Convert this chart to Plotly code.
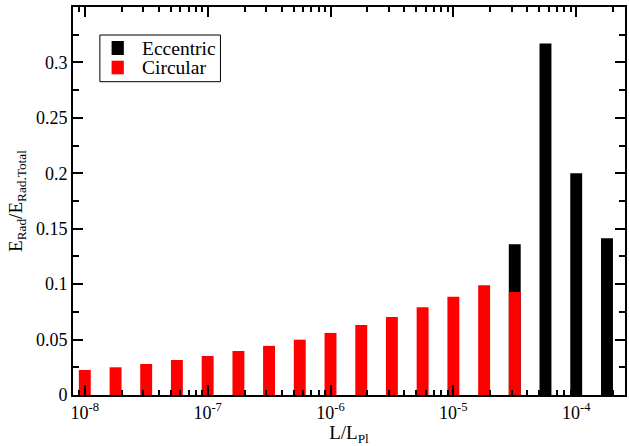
import numpy as np
import plotly.graph_objects as go

# Data
L_circular = [1.00e-8, 1.78e-8, 3.16e-8, 5.62e-8, 1.00e-7, 1.78e-7, 3.16e-7, 5.62e-7,
              1.00e-6, 1.78e-6, 3.16e-6, 5.62e-6, 1.00e-5, 1.78e-5, 3.16e-5]
E_circular = [0.0226, 0.0250, 0.0280, 0.0316, 0.0352, 0.0397, 0.0443, 0.0499,
              0.0560, 0.0632, 0.0704, 0.0791, 0.0887, 0.0990, 0.0928]
L_eccentric = [3.16e-5, 5.62e-5, 1.00e-4, 1.78e-4]
E_eccentric = [0.136, 0.317, 0.200, 0.1414]

series_names = ["Eccentric", "Circular"]
series_colors = ["black", "#ff0000"]

tick_exps = [-8, -7, -6, -5, -4]
tick_labels = ["10<sup>-8</sup>", "10<sup>-7</sup>", "10<sup>-6</sup>", "10<sup>-5</sup>", "10<sup>-4</sup>"]
y_tick_vals = [0, 0.05, 0.1, 0.15, 0.2, 0.25, 0.3]
y_tick_labels = ["0", "0.05", "0.1", "0.15", "0.2", "0.25", "0.3"]
y_minor_vals = [0.025, 0.075, 0.125, 0.175, 0.225, 0.275, 0.325]

font = "Liberation Serif"
bw = 0.097

minor_vals = [float(np.log10(m) + d) for d in range(-9, -3) for m in range(2, 10)]

fig = go.Figure()
fig.add_trace(go.Bar(x=np.log10(L_eccentric), y=E_eccentric, width=bw, name=series_names[0],
                     marker=dict(color=series_colors[0], line=dict(width=0)), showlegend=False))
fig.add_trace(go.Bar(x=np.log10(L_circular), y=E_circular, width=bw, name=series_names[1],
                     marker=dict(color=series_colors[1], line=dict(width=0)), showlegend=False))

# Legend drawn in paper coordinates (box, swatches, labels)
shapes = [dict(type="rect", xref="paper", yref="paper", x0=0.0487, x1=0.2671, y0=0.8075, y1=0.9278,
               line=dict(color="black", width=1), fillcolor="white", layer="above")]
annotations = []
sw_y = [(0.8763, 0.9124), (0.8265, 0.8616)]
txt_y = [0.8930, 0.8435]
for i in range(2):
    shapes.append(dict(type="rect", xref="paper", yref="paper", x0=0.0699, x1=0.0921,
                       y0=sw_y[i][0], y1=sw_y[i][1], line=dict(width=0),
                       fillcolor=series_colors[i], layer="above"))
    annotations.append(dict(xref="paper", yref="paper", x=0.1205, y=txt_y[i], text=series_names[i],
                            showarrow=False, xanchor="left", yanchor="middle",
                            font=dict(family=font, size=19.5, color="black")))

fig.update_layout(
    width=629, height=446,
    margin=dict(l=73, r=2, t=7, b=51),
    barmode="overlay",
    plot_bgcolor="white", paper_bgcolor="white",
    font=dict(family=font, size=18, color="black"),
    showlegend=False,
    shapes=shapes,
    annotations=annotations,
    xaxis=dict(range=[-8.096, -3.603], tickmode="array", tickvals=tick_exps, ticktext=tick_labels,
               ticks="inside", ticklen=10, tickwidth=1.5, tickcolor="black",
               showline=True, linecolor="black", linewidth=2, mirror="allticks",
               showgrid=False, zeroline=False,
               tickfont=dict(size=18, family=font),
               minor=dict(tickmode="array", tickvals=minor_vals, ticks="inside", ticklen=5,
                          tickwidth=1.5, tickcolor="black", showgrid=False),
               title=dict(text="L/L<sub>Pl</sub>", font=dict(size=19, family=font), standoff=0)),
    yaxis=dict(range=[0, 0.35], tickmode="array", tickvals=y_tick_vals, ticktext=y_tick_labels,
               ticks="inside", ticklen=10, tickwidth=1.5, tickcolor="black",
               showline=True, linecolor="black", linewidth=2, mirror="allticks",
               showgrid=False, zeroline=False,
               tickfont=dict(size=18, family=font),
               minor=dict(tickmode="array", tickvals=y_minor_vals,
                          ticks="inside", ticklen=6, tickwidth=1.5, tickcolor="black", showgrid=False),
               title=dict(text="E<sub>Rad</sub>/E<sub>Rad.Total</sub>", font=dict(size=19, family=font), standoff=8)),
)

fig.write_html("out.html", config={"displayModeBar": False},
               post_script="document.body.style.margin='0';")
